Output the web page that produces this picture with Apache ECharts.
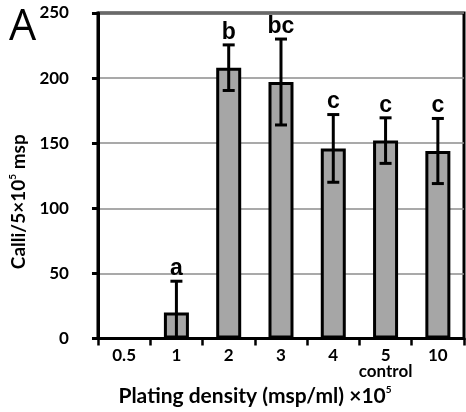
<!DOCTYPE html>
<html><head><meta charset="utf-8">
<script src="https://cdn.jsdelivr.net/npm/echarts@6/dist/echarts.min.js"></script>
<style>html,body{margin:0;padding:0;background:#fff}#c{width:466px;height:412px}</style>
</head><body><div id="c"></div>
<script>
const categories = ['0.5', '1', '2', '3', '4', '5', '10'];
const subLabels = ['', '', '', '', '', 'control', ''];
const means = [0, 20, 208, 197, 146, 152, 144];
const errors = [0, 24, 17.5, 33, 26, 17.5, 25];
const letters = ['', 'a', 'b', 'bc', 'c', 'c', 'c'];
const yTicks = [0, 50, 100, 150, 200, 250];

const chart = echarts.init(document.getElementById('c'), null, {renderer: 'canvas'});
const labelFont = 'Lato, "Open Sans", sans-serif';
chart.setOption({
  animation: false,
  grid: {left: 86, right: 2, top: 13, bottom: 71, show: true, borderColor: '#000', borderWidth: 3, backgroundColor: 'transparent'},
  graphic: [{type: 'text', left: 9, top: 6, style: {text: 'A', fontSize: 43, fontFamily: '"Open Sans", sans-serif', fill: '#000'}}],
  xAxis: [{
    type: 'category', data: categories,
    axisLine: {lineStyle: {color: '#000', width: 3}},
    axisTick: {show: true, length: 7, lineStyle: {color: '#000', width: 2.5}},
    axisLabel: {interval: 0, margin: 9, fontSize: 17, fontWeight: 'bold', fontFamily: labelFont, color: '#000'},
    name: 'Plating density (msp/ml) ×10{sup|5}',
    nameLocation: 'middle', nameGap: 46,
    nameTextStyle: {color: '#000', fontFamily: labelFont, fontWeight: 'bold', fontSize: 21, padding: [0, 52, 0, 0],
      rich: {sup: {fontSize: 10, fontWeight: 'bold', fontFamily: labelFont, padding: [0, 0, 14, 0], color: '#000'}}}
  }, {
    type: 'category', data: categories, position: 'bottom', gridIndex: 0,
    axisLine: {show: false}, axisTick: {show: false}, splitLine: {show: false},
    axisLabel: {interval: 0, margin: 25, fontSize: 17, fontWeight: 'bold', fontFamily: labelFont, color: '#000',
      formatter: (v, i) => subLabels[i]}
  }],
  yAxis: {
    type: 'value', min: 0, max: 250, interval: 50,
    axisLine: {show: true, lineStyle: {color: '#000', width: 3}},
    axisTick: {show: true, length: 6, lineStyle: {color: '#000', width: 3}},
    splitLine: {lineStyle: {color: '#8c8c8c', width: 1.5}},
    axisLabel: {margin: 29, color: '#000', fontFamily: labelFont, fontWeight: 'bold', fontSize: 17,
      formatter: v => yTicks.includes(v) ? String(v) : ''},
    name: 'Calli/5×10{sup|5} msp',
    nameLocation: 'middle', nameGap: 62,
    nameTextStyle: {color: '#000', fontFamily: labelFont, fontWeight: 'bold', fontSize: 19, padding: [0, 52, 0, 0],
      rich: {sup: {fontSize: 10, fontWeight: 'bold', fontFamily: labelFont, padding: [0, 0, 12, 0], color: '#000'}}}
  },
  series: [
    {
      type: 'bar', data: means, barWidth: 25,
      itemStyle: {color: '#a6a6a6', borderColor: '#000', borderWidth: 3},
      z: 2
    },
    {
      type: 'custom', z: 3,
      data: means.map((m, i) => [i, m, errors[i]]),
      renderItem: function (params, api) {
        const i = api.value(0), m = api.value(1), e = api.value(2);
        const children = [];
        const top = api.coord([i, m + e]);
        const lo = Math.max(0, m - e);
        const bot = api.coord([i, lo]);
        const x = top[0];
        const half = 6;
        if (e > 0) {
          children.push({type: 'line', shape: {x1: x, y1: top[1], x2: x, y2: bot[1]}, style: {stroke: '#000', lineWidth: 3}});
          children.push({type: 'line', shape: {x1: x - half, y1: top[1], x2: x + half, y2: top[1]}, style: {stroke: '#000', lineWidth: 3}});
          if (m - e > 0) children.push({type: 'line', shape: {x1: x - half, y1: bot[1], x2: x + half, y2: bot[1]}, style: {stroke: '#000', lineWidth: 3}});
        }
        const L = letters[params.dataIndex];
        if (L) children.push({type: 'text', x: x, y: top[1] - 1, style: {text: L, fill: '#000', fontSize: 23, fontWeight: 'bold', fontFamily: '"Liberation Sans", Arial, sans-serif', align: 'center', verticalAlign: 'bottom'}});
        return {type: 'group', children: children};
      }
    }
  ]
});
</script></body></html>
